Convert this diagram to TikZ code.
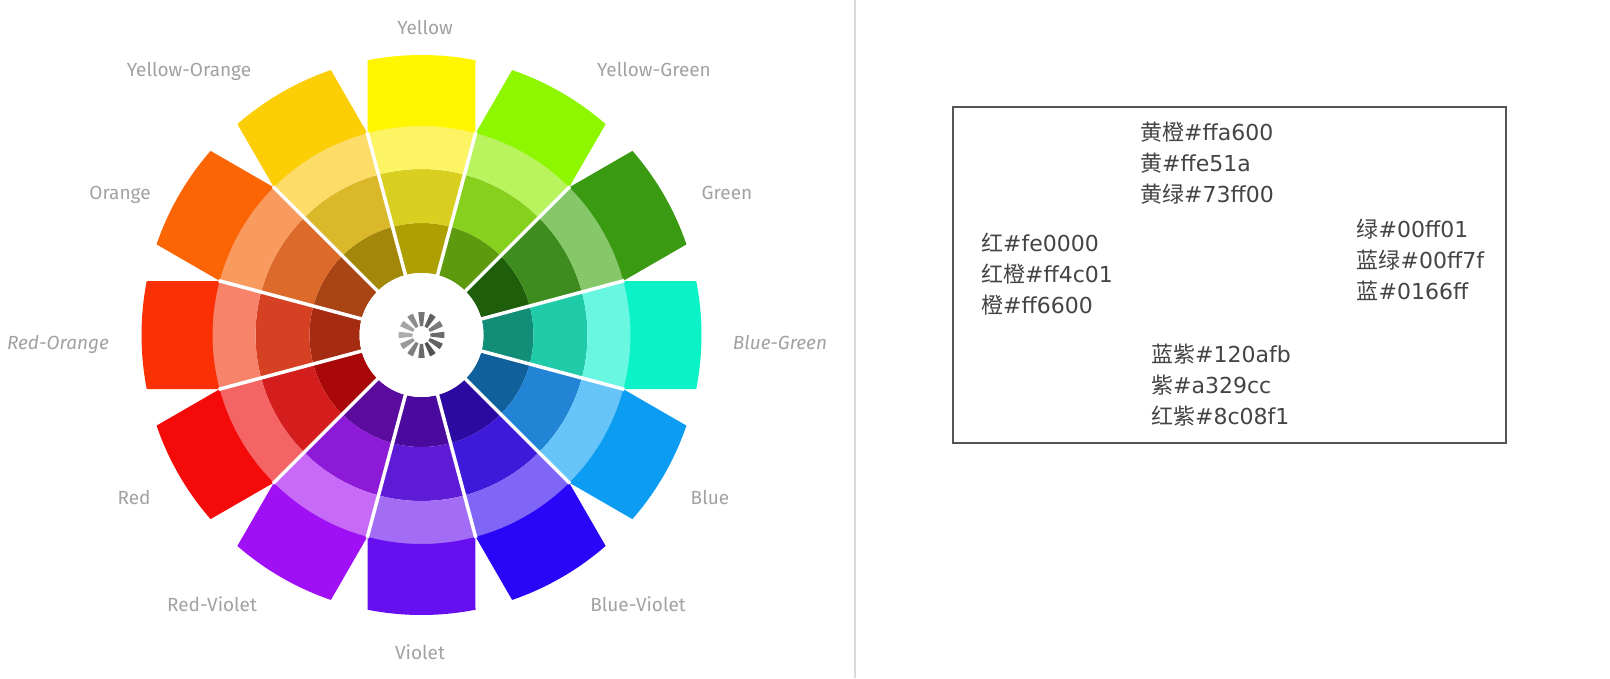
\documentclass[tikz,border=0pt]{standalone}
\usepackage{fontspec}
\setmainfont{Fira Sans}
\newfontfamily\cjkfont{Noto Sans CJK SC}
\newfontfamily\latfont{DejaVu Sans}
\newfontfamily\lblfont{Fira Sans}
\definecolor{lblgray}{HTML}{A2A2A6}
\definecolor{txtgray}{HTML}{444444}
\definecolor{boxgray}{HTML}{555555}
\definecolor{divgray}{HTML}{DADADA}
\def\rA{62}\def\rB{112}\def\rC{166}\def\rD{209}\def\rE{280}
\pgfmathsetmacro\aD{asin(54/209)}
\pgfmathsetmacro\aE{asin(54/280)}
\newcommand\annsec[4]{% angle, r1, r2, colour
  \fill[color=#4] ({#1-15}:#2) arc[start angle={#1-15}, end angle={#1+15}, radius=#2]
    -- ({#1+15}:#3) arc[start angle={#1+15}, end angle={#1-15}, radius=#3] -- cycle;}
\newcommand\wheelseg[5]{% angle, outer, light, mid, dark
  \definecolor{segO}{HTML}{#2}\definecolor{segL}{HTML}{#3}%
  \definecolor{segM}{HTML}{#4}\definecolor{segD}{HTML}{#5}%
  \annsec{#1}{\rA}{\rB}{segD}
  \annsec{#1}{\rB}{\rC}{segM}
  \annsec{#1}{\rC}{\rD+0.5}{segL}
  \fill[color=segO] ({#1-\aD}:\rD) -- ({#1-\aE}:\rE)
    arc[start angle={#1-\aE}, end angle={#1+\aE}, radius=\rE]
    -- ({#1+\aD}:\rD) arc[start angle={#1+\aD}, end angle={#1-\aD}, radius=\rD] -- cycle;}
\tikzset{
  lbl/.style={font=\lblfont\fontsize{19}{22}\selectfont, text=lblgray, anchor=base, inner sep=0pt},
  lbli/.style={lbl, font=\lblfont\itshape\fontsize{19}{22}\selectfont},
  hexline/.style={font=\latfont\fontsize{22}{25}\selectfont, text=txtgray, anchor=base west, inner sep=0pt},
  sep/.style={draw=white, line width=3.5pt},
}
\begin{document}
\begin{tikzpicture}[x=1pt,y=1pt]
\useasboundingbox (0,0) rectangle (1610,-678);
\fill[white] (0,0) rectangle (1610,-678);
% ---------- colour wheel ----------
\begin{scope}[shift={(421.5,-335)}]
  \wheelseg{90}{FFF600}{FCF462}{D8CF20}{AE9F02}
  \wheelseg{60}{8EF700}{B9F45E}{88D01E}{5E9A0E}
  \wheelseg{30}{3A9A12}{86C76A}{3E8C1E}{1F5E0A}
  \wheelseg{0}{0AF2C6}{6AF7E2}{20CBAA}{128E78}
  \wheelseg{-30}{0C9CF2}{66C4F8}{2284D4}{10609C}
  \wheelseg{-60}{2A06F8}{7F66F6}{3D1AD9}{2A0AA0}
  \wheelseg{-90}{6610F2}{A36CF5}{5E1BD6}{4A0A9E}
  \wheelseg{-120}{A010F5}{C76AF8}{8C1AD6}{5C0B9F}
  \wheelseg{-150}{F50A0A}{F56464}{D41E1E}{A80808}
  \wheelseg{180}{FB3004}{F7836B}{D64124}{A52B12}
  \wheelseg{150}{FB6504}{F99A5F}{DC6A2A}{A94414}
  \wheelseg{120}{FCCE06}{FDDC68}{DAB82A}{A38708}
  \foreach \k in {0,...,11}{
    \draw[sep] ({15+30*\k}:\rA-3) -- ({15+30*\k}:\rD+1);
  }
  \fill[white] (0,0) circle[radius=\rA];
  % spinner
  \foreach \k/\g in {0/58,1/52,2/62,3/55,4/45,5/35,6/32,7/40,8/50,9/58,10/68,11/62}{
    \fill[black!\g!white] ({30*\k-10}:9) -- ({30*\k-8}:23) arc[start angle={30*\k-8}, end angle={30*\k+8}, radius=23] -- ({30*\k+10}:9) -- cycle;
  }
\end{scope}
% ---------- labels ----------
\node[lbl] (lY)  at (425,-34)  {Yellow};
\node[lbl] (lYO) at (189,-76)  {Yellow-Orange};
\node[lbl] (lYG) at (654,-76)  {Yellow-Green};
\node[lbl] (lO)  at (120,-199) {Orange};
\node[lbl] (lG)  at (727,-199) {Green};
\node[lbli] (lRO) at (58,-349)  {Red-Orange};
\node[lbli] (lBG) at (780,-349) {Blue-Green};
\node[lbl] (lR)  at (134,-504) {Red};
\node[lbl] (lB)  at (710,-504) {Blue};
\node[lbl] (lRV) at (212,-611) {Red-Violet};
\node[lbl] (lBV) at (638,-611) {Blue-Violet};
\node[lbl] (lV)  at (420,-659) {Violet};
% ---------- divider ----------
\coordinate (dtop) at (855,0);
\coordinate (dbot) at (855,-678);
\draw[divgray, line width=2.5pt] (dtop) -- (dbot);
% ---------- box ----------
\coordinate (bnw) at (953,-107);
\coordinate (bse) at (1506,-443);
\draw[boxgray, line width=2.2pt] (bnw) rectangle (bse);
% group top
\node[hexline] (t1) at (1140,-140) {{\cjkfont 黄橙}\#ffa600};
\node[hexline] (t2) at (1140,-171) {{\cjkfont 黄}\#ffe51a};
\node[hexline] (t3) at (1140,-202) {{\cjkfont 黄绿}\#73ff00};
% group left
\node[hexline] (l1) at (981,-251) {{\cjkfont 红}\#fe0000};
\node[hexline] (l2) at (981,-282) {{\cjkfont 红橙}\#ff4c01};
\node[hexline] (l3) at (981,-313) {{\cjkfont 橙}\#ff6600};
% group right
\node[hexline] (r1) at (1356.5,-237) {{\cjkfont 绿}\#00ff01};
\node[hexline] (r2) at (1356.5,-268) {{\cjkfont 蓝绿}\#00ff7f};
\node[hexline] (r3) at (1356.5,-299) {{\cjkfont 蓝}\#0166ff};
% group bottom
\node[hexline] (b1) at (1151,-362) {{\cjkfont 蓝紫}\#120afb};
\node[hexline] (b2) at (1151,-393) {{\cjkfont 紫}\#a329cc};
\node[hexline] (b3) at (1151,-424) {{\cjkfont 红紫}\#8c08f1};
\end{tikzpicture}
\end{document}
